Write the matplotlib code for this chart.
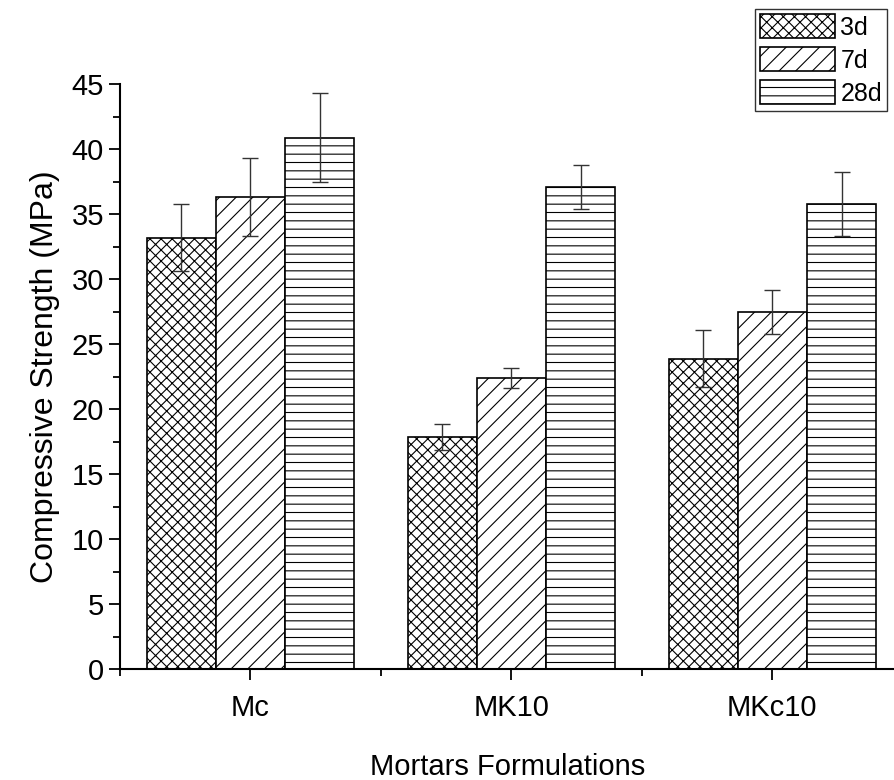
import matplotlib.pyplot as plt
import numpy as np
import matplotlib as mpl

mpl.rcParams['font.family'] = ['Liberation Sans Narrow', 'Liberation Sans', 'DejaVu Sans']
mpl.rcParams['hatch.linewidth'] = 0.8

categories = ['Mc', 'MK10', 'MKc10']
ages = ['3d', '7d', '28d']
strength = {
    '3d': [33.2, 17.9, 23.9],
    '7d': [36.3, 22.4, 27.5],
    '28d': [40.9, 37.1, 35.8],
}
errors = {
    '3d': [2.6, 1.0, 2.2],
    '7d': [3.0, 0.75, 1.7],
    '28d': [3.4, 1.7, 2.45],
}
hatches = ['xxx', '//', '--']

fig = plt.figure(figsize=(8.95, 7.8), dpi=100)
ax = fig.add_axes([0.134, 0.142, 0.866, 0.750])

x = np.arange(len(categories))
width = 0.265
for i, age in enumerate(ages):
    ax.bar(x + (i - 1) * width, strength[age], width, color='white', edgecolor='black',
           linewidth=1.2, hatch=hatches[i], label=age,
           yerr=errors[age], capsize=6,
           error_kw=dict(ecolor='#333333', elinewidth=1.0, capthick=1.0))

ax.set_xlim(-0.5, 2.47)
ax.set_ylim(0, 45)
ax.set_yticks(np.arange(0, 46, 5))
ax.set_yticks(np.arange(2.5, 45, 5), minor=True)
ax.set_xticks(x)
ax.set_xticklabels(categories)
ax.set_xticks([-0.5, 0.5, 1.5], minor=True)

for s in ['top', 'right']:
    ax.spines[s].set_visible(False)
for s in ['left', 'bottom']:
    ax.spines[s].set_linewidth(1.5)

ax.tick_params(axis='both', which='major', direction='out', length=8, width=1.3, labelsize=21)
ax.tick_params(axis='both', which='minor', direction='out', length=5, width=1.3)
ax.tick_params(axis='x', which='major', pad=10)

ax.set_ylabel('Compressive Strength (MPa)', fontsize=23, labelpad=8)
ax.set_xlabel('Mortars Formulations', fontsize=21)
ax.xaxis.set_label_coords(0.5, -0.143)

leg = fig.legend(loc='upper right', bbox_to_anchor=(0.991, 0.988), fontsize=18,
                 frameon=True, fancybox=False, edgecolor='black', handlelength=3.0,
                 handleheight=1.1, handletextpad=0.2, borderpad=0.2, labelspacing=0.3,
                 borderaxespad=0)
leg.get_frame().set_linewidth(1.0)

plt.savefig('out.png', dpi=100)
